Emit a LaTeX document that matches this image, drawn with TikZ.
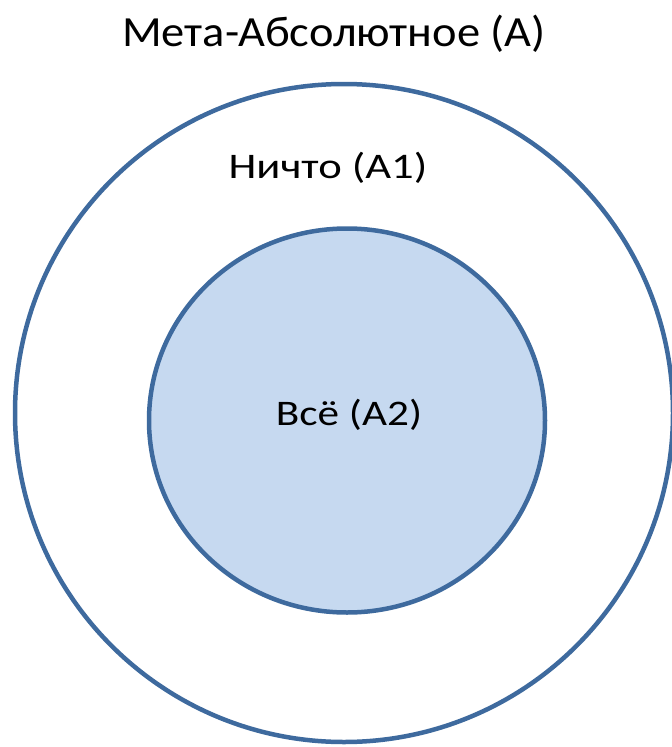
\documentclass[tikz,border=0pt]{standalone}
\usepackage{fontspec}
\setmainfont{Carlito}

\definecolor{ringblue}{RGB}{62,106,158}
\definecolor{fillblue}{RGB}{198,217,240}

\begin{document}
\begin{tikzpicture}[x=1pt,y=-1pt,
    ring/.style={draw=ringblue, line width=4.5pt},
    lbl/.style={anchor=base, inner sep=0pt, transform shape}]
    % Picture Size
    \useasboundingbox (0,0) rectangle (672,747);

    % Draw Circles
    % -- outer
    \draw[ring, fill=white] (344,413) circle[radius=329];
    % -- inner
    \draw[ring, fill=fillblue] (347,420.5) ellipse[x radius=198, y radius=192];

    % Labels
    \node[lbl, xscale=1.08, font=\fontsize{43}{50}\selectfont] (meta) at (334,46) {Мета-Абсолютное (А)};
    \node[lbl, xscale=1.24, font=\fontsize{36}{42}\selectfont] (nothing) at (328,178) {Ничто (А1)};
    \node[lbl, xscale=1.2, font=\fontsize{36}{42}\selectfont] (all) at (349,425) {Всё (А2)};
\end{tikzpicture}
\end{document}
